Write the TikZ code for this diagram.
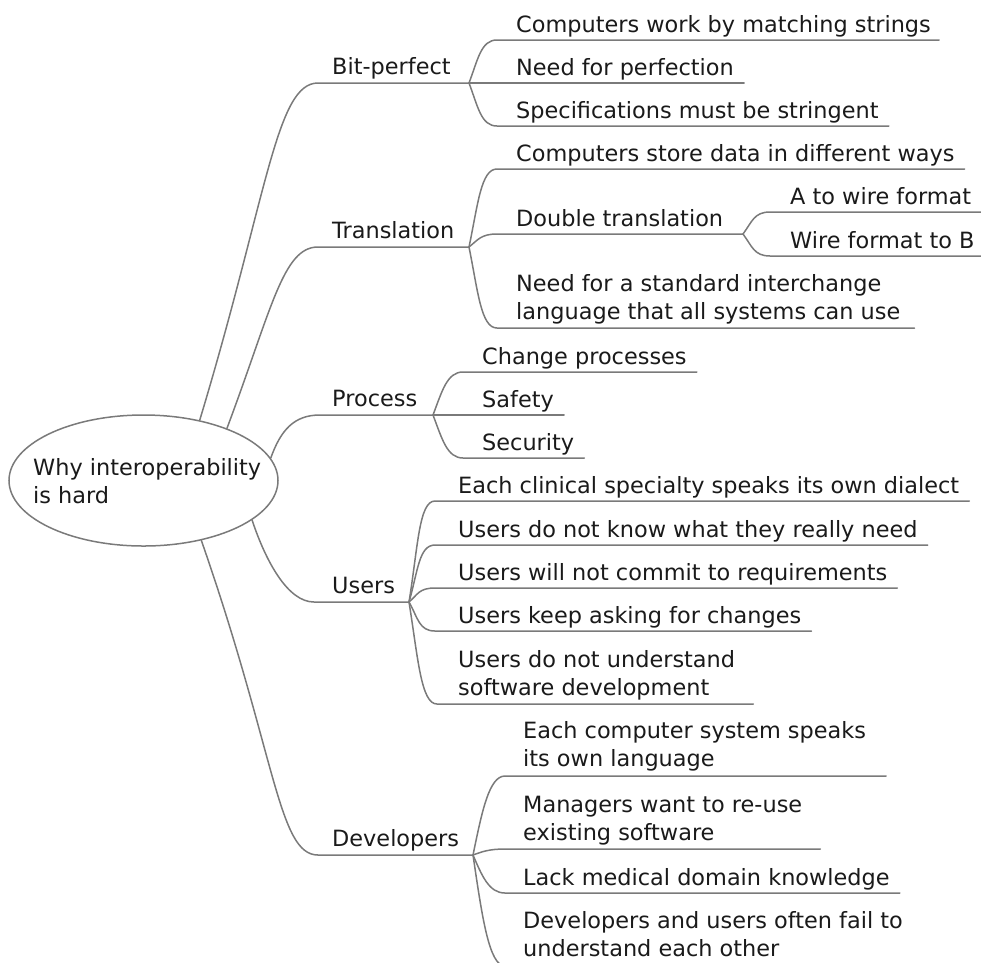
\documentclass[tikz,border=0pt]{standalone}
\usepackage{fontspec}
\setmainfont{DejaVu Sans}
\usetikzlibrary{calc,shapes.geometric}

\definecolor{linegray}{HTML}{7A7A7A}
\definecolor{inkgray}{HTML}{1A1A1A}

% two left-aligned lines whose baseline is that of the first line
\newcommand{\twoline}[2]{\begin{tabular}[t]{@{}l@{}}#1\\#2\end{tabular}}

% child connector: curve from the parent's fork to the start of the
% child's underline, then the underline itself past the end of the text
\newcommand{\twig}[4]{%
  \draw[link] (#1) .. controls ($(#1)!0.55!(#1 |- #2) + (9,0)$) and ($(#2)+(-16,0)$) .. (#2)
    -- ($(#2 -| #3.east)+(#4,0)$);}

\tikzset{
  link/.style={draw=linegray, line width=1.5pt, line cap=round},
  topic/.style={anchor=base west, inner sep=0pt, text=inkgray,
                font=\fontsize{22.4}{28.8}\selectfont},
  hub/.style={draw=linegray, line width=1.5pt, ellipse,
              minimum width=269pt, minimum height=131pt, inner sep=0pt},
}

\begin{document}
\begin{tikzpicture}[x=1pt,y=-1pt]
\path[use as bounding box] (0,0) rectangle (981,962);
\clip (0,0) rectangle (981,962);

% ---- central topic ----
\node[hub] (root) at (143.5,480.5) {};
\node[topic] (rootlabel) at (33,475) {\twoline{Why interoperability}{is hard}};

% ---- main topics ----
\node[topic] (bit) at (332,74)  {Bit-perfect};
\node[topic] (tra) at (332,238) {Translation};
\node[topic] (pro) at (332,406) {Process};
\node[topic] (usr) at (332,593) {Users};
\node[topic] (dev) at (332,846) {Developers};

\coordinate (sbit) at (318,83);  \coordinate (fbit) at (469,83);
\coordinate (stra) at (318,247); \coordinate (ftra) at (469,247);
\coordinate (spro) at (320,415); \coordinate (fpro) at (433,415);
\coordinate (susr) at (314,602); \coordinate (fusr) at (409,602);
\coordinate (sdev) at (318,855); \coordinate (fdev) at (473,855);

\draw[link] (root.47) .. controls ($(root.47)+(68,-225)$) and ($(sbit)+(-42,0)$) .. (sbit) -- (fbit);
\draw[link] (root.32) .. controls ($(root.32)+(45,-120)$) and ($(stra)+(-35,0)$) .. (stra) -- (ftra);
\draw[link] (root.10) .. controls ($(root.10)+(10,-28)$) and ($(spro)+(-26,0)$) .. (spro) -- (fpro);
\draw[link] (root.-20) .. controls ($(root.-20)+(14,42)$) and ($(susr)+(-26,0)$) .. (susr) -- (fusr);
\draw[link] (root.-46) .. controls ($(root.-46)+(75,215)$) and ($(sdev)+(-40,0)$) .. (sdev) -- (fdev);

% ---- Bit-perfect ----
\node[topic] (b1) at (516,32)  {Computers work by matching strings};
\node[topic] (b2) at (516,75)  {Need for perfection};
\node[topic] (b3) at (516,118) {Specifications must be stringent};
\coordinate (sb1) at (497,40);
\coordinate (sb2) at (497,83);
\coordinate (sb3) at (497,126);
\twig{fbit}{sb1}{b1}{8}
\twig{fbit}{sb2}{b2}{10}
\twig{fbit}{sb3}{b3}{10}

% ---- Translation ----
\node[topic] (t1) at (516,161) {Computers store data in different ways};
\node[topic] (t2) at (516,226) {Double translation};
\node[topic] (t3) at (516,291) {\twoline{Need for a standard interchange}{language that all systems can use}};
\coordinate (st1) at (497,169);
\coordinate (st2) at (497,234);
\coordinate (st3) at (497,328);
\coordinate (fdbl) at (743,234);
\twig{ftra}{st1}{t1}{10}
\draw[link] (ftra) .. controls ($(ftra)!0.55!(ftra |- st2) + (9,0)$) and ($(st2)+(-16,0)$) .. (st2) -- (fdbl);
\twig{ftra}{st3}{t3}{14}

% ---- Double translation ----
\node[topic] (d1) at (790,204) {A to wire format};
\node[topic] (d2) at (790,248) {Wire format to B};
\coordinate (sd1) at (770,212);
\coordinate (sd2) at (770,256);
\twig{fdbl}{sd1}{d1}{20}
\twig{fdbl}{sd2}{d2}{20}

% ---- Process ----
\node[topic] (p1) at (482,364) {Change processes};
\node[topic] (p2) at (482,407) {Safety};
\node[topic] (p3) at (482,450) {Security};
\coordinate (sp1) at (463,372);
\coordinate (sp2) at (463,415);
\coordinate (sp3) at (463,458);
\twig{fpro}{sp1}{p1}{10}
\twig{fpro}{sp2}{p2}{10}
\twig{fpro}{sp3}{p3}{10}

% ---- Users ----
\node[topic] (u1) at (458,493) {Each clinical specialty speaks its own dialect};
\node[topic] (u2) at (458,537) {Users do not know what they really need};
\node[topic] (u3) at (458,580) {Users will not commit to requirements};
\node[topic] (u4) at (458,623) {Users keep asking for changes};
\node[topic] (u5) at (458,667) {\twoline{Users do not understand}{software development}};
\coordinate (su1) at (435,501);
\coordinate (su2) at (435,545);
\coordinate (su3) at (435,588);
\coordinate (su4) at (435,631);
\coordinate (su5) at (437,704);
\twig{fusr}{su1}{u1}{10}
\twig{fusr}{su2}{u2}{10}
\twig{fusr}{su3}{u3}{10}
\twig{fusr}{su4}{u4}{10}
\twig{fusr}{su5}{u5}{18}

% ---- Developers ----
\node[topic] (v1) at (523,738) {\twoline{Each computer system speaks}{its own language}};
\node[topic] (v2) at (523,812) {\twoline{Managers want to re-use}{existing software}};
\node[topic] (v3) at (523,885) {Lack medical domain knowledge};
\node[topic] (v4) at (523,928) {\twoline{Developers and users often fail to}{understand each other}};
\coordinate (sv1) at (505,776);
\coordinate (sv2) at (505,849);
\coordinate (sv3) at (505,893);
\coordinate (sv4) at (505,966);
\twig{fdev}{sv1}{v1}{20}
\twig{fdev}{sv2}{v2}{18}
\twig{fdev}{sv3}{v3}{10}
\twig{fdev}{sv4}{v4}{12}
\end{tikzpicture}
\end{document}
